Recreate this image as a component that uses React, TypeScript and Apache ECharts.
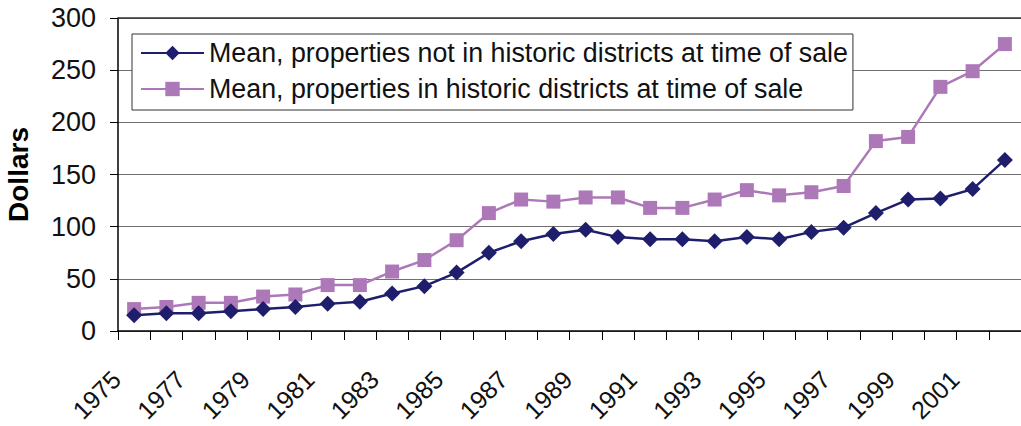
import React, { useEffect, useRef } from "react";
import * as echarts from "echarts";

const years = [
  "1975", "1976", "1977", "1978", "1979", "1980", "1981", "1982", "1983", "1984",
  "1985", "1986", "1987", "1988", "1989", "1990", "1991", "1992", "1993", "1994",
  "1995", "1996", "1997", "1998", "1999", "2000", "2001", "2002",
];
const notInHistoric = [
  15, 17, 17, 19, 21, 23, 26, 28, 36, 43, 56, 75, 86, 93, 97, 90, 88, 88, 86, 90,
  88, 95, 99, 113, 126, 127, 136, 164,
];
const inHistoric = [
  21, 23, 27, 27, 33, 35, 44, 44, 57, 68, 87, 113, 126, 124, 128, 128, 118, 118, 126, 135,
  130, 133, 139, 182, 186, 234, 249, 275,
];
const seriesNames = [
  "Mean, properties not in historic districts at time of sale",
  "Mean, properties in historic districts at time of sale",
];
const yAxisTitle = "Dollars";

const FONT = "Liberation Sans, Arial, sans-serif";
const NAVY = "#1f1e6c";
const LAVENDER = "#ad78b7";

export default function App() {
  const ref = useRef<HTMLDivElement>(null);
  useEffect(() => {
    document.body.style.margin = "0";
    if (!ref.current) return;
    const chart = echarts.init(ref.current, null, { renderer: "svg" });
    chart.setOption({
      animation: false,
      backgroundColor: "#ffffff",
      textStyle: { fontFamily: FONT },
      grid: {
        left: 118,
        right: 0,
        top: 18,
        bottom: 95,
        outerBoundsMode: "none",
      },
      legend: {
        orient: "vertical",
        left: 132,
        top: 34,
        backgroundColor: "#ffffff",
        borderColor: "#333333",
        borderWidth: 1,
        padding: [5, 5, 7, 8],
        itemWidth: 63,
        itemHeight: 18,
        itemGap: 8,
        textStyle: { fontFamily: FONT, fontSize: 26.8, lineHeight: 28, color: "#111111" },
        data: seriesNames,
      },
      xAxis: {
        type: "category",
        data: years,
        boundaryGap: true,
        axisLine: { show: true, lineStyle: { color: "#000000", width: 1.5 } },
        axisTick: { show: true, interval: 0, length: 9, lineStyle: { color: "#000000", width: 1 } },
        axisLabel: { show: false },
        splitLine: { show: false },
      },
      yAxis: {
        type: "value",
        min: 0,
        max: 300,
        interval: 50,
        name: yAxisTitle,
        nameLocation: "middle",
        nameGap: 86,
        nameTextStyle: { fontFamily: FONT, fontSize: 28, fontWeight: "bold", color: "#000000" },
        axisLine: { show: true, lineStyle: { color: "#000000", width: 1.5 } },
        axisTick: { show: true, length: 8, lineStyle: { color: "#000000", width: 1 } },
        axisLabel: { margin: 22, fontFamily: FONT, fontSize: 27, color: "#111111" },
        splitLine: { show: true, lineStyle: { color: "#707070", width: 1.2 } },
      },
      series: [
        {
          name: seriesNames[0],
          type: "line",
          data: notInHistoric,
          symbol: "diamond",
          symbolSize: 16,
          color: NAVY,
          lineStyle: { color: NAVY, width: 2.5 },
          itemStyle: { color: NAVY },
          z: 3,
          markLine: {
            silent: true,
            symbol: "none",
            label: { show: false },
            lineStyle: { color: "#333333", width: 1.5, type: "solid" },
            data: [{ yAxis: 300 }],
          },
        },
        {
          name: seriesNames[1],
          type: "line",
          data: inHistoric,
          symbol: "rect",
          symbolSize: 14,
          color: LAVENDER,
          lineStyle: { color: LAVENDER, width: 2.5 },
          itemStyle: { color: LAVENDER },
          z: 2,
        },
      ],
    });

    // Rotated year labels (every other year), placed from the axis scale
    const labels = years
      .filter((_, i) => i % 2 === 0)
      .map((yr) => {
        const px = chart.convertToPixel({ xAxisIndex: 0 }, yr) as number;
        return {
          type: "text",
          x: px - 18,
          y: 375,
          rotation: Math.PI / 4,
          silent: true,
          style: {
            text: yr,
            fontFamily: FONT,
            fontSize: 25,
            fill: "#111111",
            align: "right",
            verticalAlign: "middle",
          },
        };
      });
    chart.setOption({ graphic: labels });

    return () => chart.dispose();
  }, []);
  return <div ref={ref} style={{ width: 1021, height: 426 }} />;
}
